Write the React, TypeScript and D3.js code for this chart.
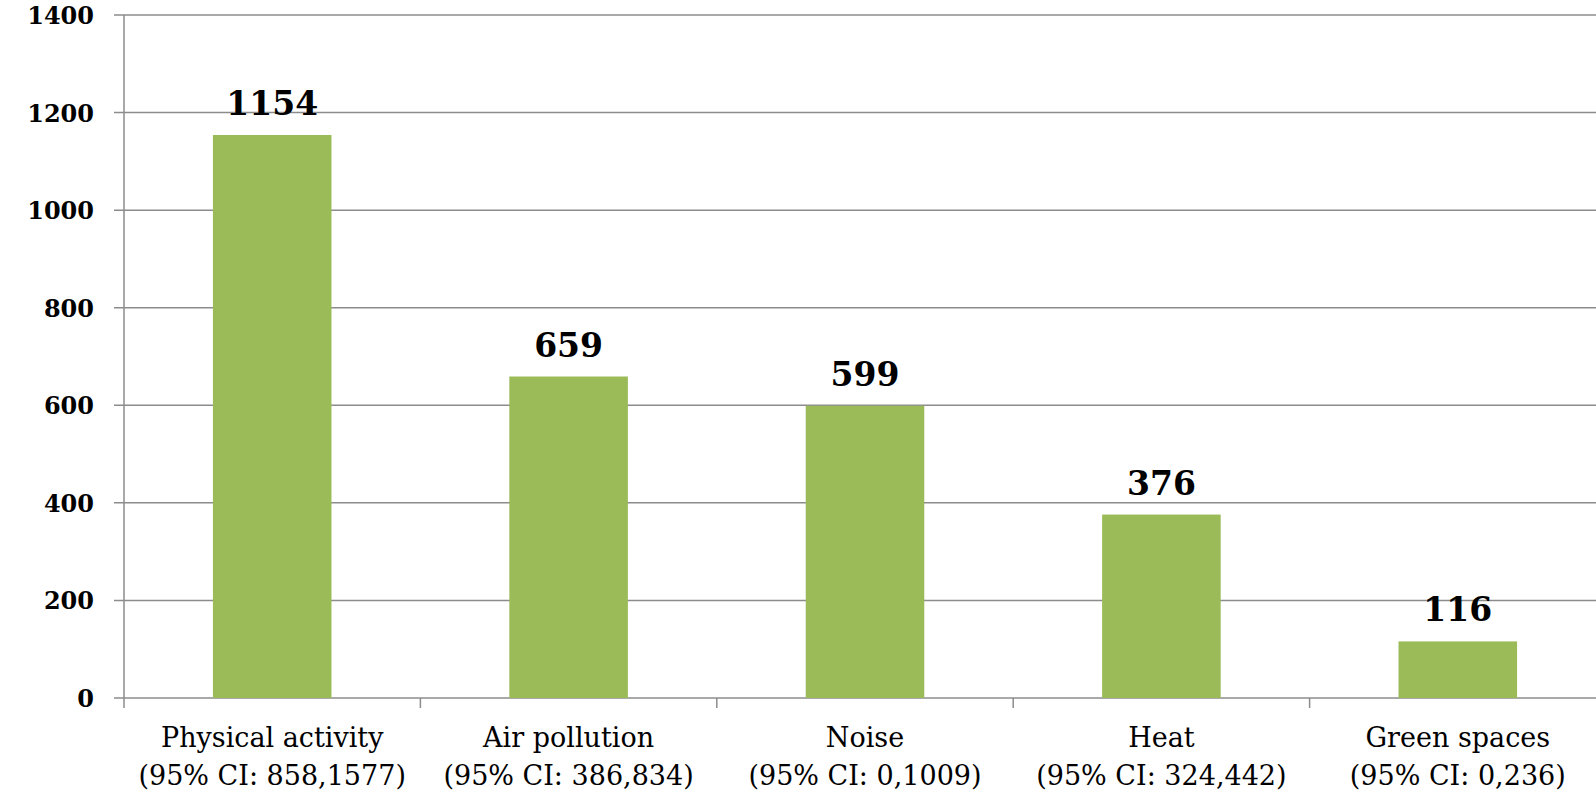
import { useEffect, useRef } from 'react';
import * as d3 from 'd3';

const categories = ['Physical activity', 'Air pollution', 'Noise', 'Heat', 'Green spaces'];
const ciLabels = ['(95% CI: 858,1577)', '(95% CI: 386,834)', '(95% CI: 0,1009)', '(95% CI: 324,442)', '(95% CI: 0,236)'];
const values = [1154, 659, 599, 376, 116];
const yTicks = [0, 200, 400, 600, 800, 1000, 1200, 1400];

const width = 1596;
const height = 793;
const FONT = "Georgia, 'DejaVu Serif', serif";

const App = () => {
  const svgRef = useRef<SVGSVGElement>(null);

  useEffect(() => {
    if (!svgRef.current) return;
    const margin = { top: 15, right: -10, bottom: 95, left: 124 };
    const innerWidth = width - margin.left - margin.right;
    const innerHeight = height - margin.top - margin.bottom;

    const svg = d3.select(svgRef.current);
    svg.selectAll('*').remove();

    const g = svg.append('g').attr('transform', `translate(${margin.left},${margin.top})`);

    const x = d3.scaleBand().domain(categories).range([0, innerWidth]).paddingInner(0.6).paddingOuter(0.3);
    const band = innerWidth / categories.length;
    const y = d3.scaleLinear().domain([0, 1400]).range([innerHeight, 0]);

    // gridlines
    g.selectAll('.grid')
      .data(yTicks)
      .join('line')
      .attr('x1', -10)
      .attr('x2', innerWidth)
      .attr('y1', d => y(d))
      .attr('y2', d => y(d))
      .attr('stroke', '#8c8c8c')
      .attr('stroke-width', 1.5);

    // y axis line
    g.append('line')
      .attr('x1', 0).attr('x2', 0)
      .attr('y1', 0).attr('y2', innerHeight)
      .attr('stroke', '#8c8c8c').attr('stroke-width', 1.5);

    // category ticks
    g.selectAll('.xtick')
      .data(d3.range(categories.length + 1))
      .join('line')
      .attr('x1', i => i * band)
      .attr('x2', i => i * band)
      .attr('y1', innerHeight)
      .attr('y2', innerHeight + 10)
      .attr('stroke', '#8c8c8c').attr('stroke-width', 1.5);

    // y labels
    g.selectAll('.ylab')
      .data(yTicks)
      .join('text')
      .attr('x', -30)
      .attr('y', d => y(d) + 9)
      .attr('text-anchor', 'end')
      .attr('font-family', FONT)
      .attr('font-weight', 'bold')
      .attr('font-size', 24)
      .text(d => d);

    // bars
    g.selectAll('.bar')
      .data(values)
      .join('rect')
      .attr('x', (_, i) => x(categories[i]) || 0)
      .attr('y', d => y(d))
      .attr('width', x.bandwidth())
      .attr('height', d => innerHeight - y(d))
      .attr('fill', '#9bbb59');

    // value labels
    g.selectAll('.val')
      .data(values)
      .join('text')
      .attr('x', (_, i) => (x(categories[i]) || 0) + x.bandwidth() / 2)
      .attr('y', d => y(d) - 20)
      .attr('text-anchor', 'middle')
      .attr('font-family', FONT)
      .attr('font-weight', 'bold')
      .attr('font-size', 33)
      .text(d => d);

    // category labels
    const labs = g.selectAll('.cat')
      .data(categories)
      .join('text')
      .attr('text-anchor', 'middle')
      .attr('font-family', FONT)
      .attr('font-size', 27)
      .attr('fill', '#000');
    labs.append('tspan')
      .attr('x', (_, i) => (i + 0.5) * band)
      .attr('y', innerHeight + 49)
      .text(d => d);
    labs.append('tspan')
      .attr('x', (_, i) => (i + 0.5) * band)
      .attr('y', innerHeight + 87)
      .text((_, i) => ciLabels[i]);
  }, []);

  return (
    <svg
      ref={svgRef}
      width={width}
      height={height}
      style={{ position: 'absolute', left: 0, top: 0, background: '#fff' }}
    />
  );
};

export default App;
